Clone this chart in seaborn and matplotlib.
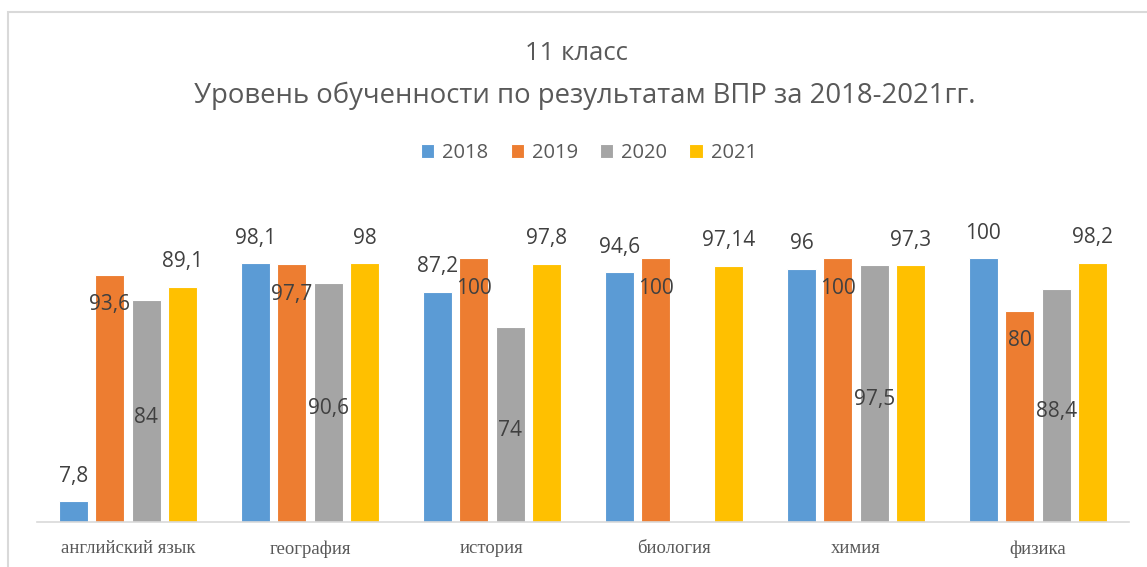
import pandas as pd
import matplotlib as mpl
import matplotlib.pyplot as plt
from matplotlib.patches import Rectangle
import seaborn as sns

subjects = ["английский язык", "география", "история", "биология", "химия", "физика"]
years = ["2018", "2019", "2020", "2021"]
y2018 = [7.8, 98.1, 87.2, 94.6, 96, 100]
y2019 = [93.6, 97.7, 100, 100, 100, 80]
y2020 = [84, 90.6, 74, None, 97.5, 88.4]
y2021 = [89.1, 98, 97.8, 97.14, 97.3, 98.2]
colors = ["#5B9BD5", "#ED7D31", "#A5A5A5", "#FFC000"]
# where the data label sits for each series
label_mode = {"2018": "above", "2019": "inside", "2020": "center", "2021": "above"}

wide = pd.DataFrame({"subject": subjects, "2018": y2018, "2019": y2019, "2020": y2020, "2021": y2021})
df = pd.melt(wide, id_vars = "subject", var_name = "year", value_name = "value").dropna()

sns.set_style("white")
plt.rcParams["font.family"] = ["Open Sans", "DejaVu Sans"]

fig = plt.figure(figsize = (11.47, 5.67), dpi = 100)
ax = fig.add_axes([37 / 1147, 45 / 567, 1092 / 1147, 0.56])

sns.barplot(data = df, x = "subject", y = "value", hue = "year", order = subjects, hue_order = years,
            palette = colors, gap = 0.2, width = 0.8, saturation = 1, edgecolor = "white", linewidth = 0.8, ax = ax)

ax.set_ylim(0, 100 * 0.56 * 567 / 264)
ax.set_xlim(-0.5, 5.5)
ax.set_xlabel("")
ax.set_ylabel("")
ax.set_yticks([])
for s in ["top", "right", "left"]:
    ax.spines[s].set_visible(False)
ax.spines["bottom"].set_color("#D9D9D9")
ax.spines["bottom"].set_linewidth(1.2)
ax.tick_params(axis = "x", length = 0, pad = 13)
for lbl in ax.get_xticklabels():
    lbl.set_fontfamily("Liberation Serif")
    lbl.set_fontsize(13.5)
    lbl.set_color("#595959")

for year, cont in zip(years, ax.containers):
    mode = label_mode[year]
    for bar in cont:
        h = bar.get_height()
        x = bar.get_x() + bar.get_width() / 2
        txt = f"{h:g}".replace(".", ",")
        if mode == "above":
            y, dy = h, 25
        elif mode == "inside":
            y, dy = h, -30
        else:
            y, dy = h / 2, -6
        ax.annotate(txt, (x, y), xytext = (0, dy), textcoords = "offset pixels",
                    ha = "center", va = "center", fontsize = 15, color = "#404040")

handles, labels = ax.get_legend_handles_labels()
ax.legend(handles, labels, ncol = 4, loc = "center", bbox_to_anchor = (589 / 1147, 1 - 153 / 567),
          bbox_transform = fig.transFigure, frameon = False, fontsize = 14.5, labelcolor = "#595959",
          handlelength = 0.65, handleheight = 0.65, handletextpad = 0.4, columnspacing = 1.1)

fig.text(576 / 1147, 1 - 53 / 567, "11 класс", ha = "center", va = "center", fontsize = 18.5, color = "#595959")
fig.text(585 / 1147, 1 - 96 / 567, "Уровень обученности по результатам ВПР за 2018-2021гг.",
         ha = "center", va = "center", fontsize = 19.8, color = "#595959")

fig.patches.append(Rectangle((8 / 1147, -0.1), 1.2, 1.1 - 12 / 567, transform = fig.transFigure,
                             fill = False, edgecolor = "#D9D9D9", linewidth = 1.5))

fig.savefig("out.png", dpi = 100)
